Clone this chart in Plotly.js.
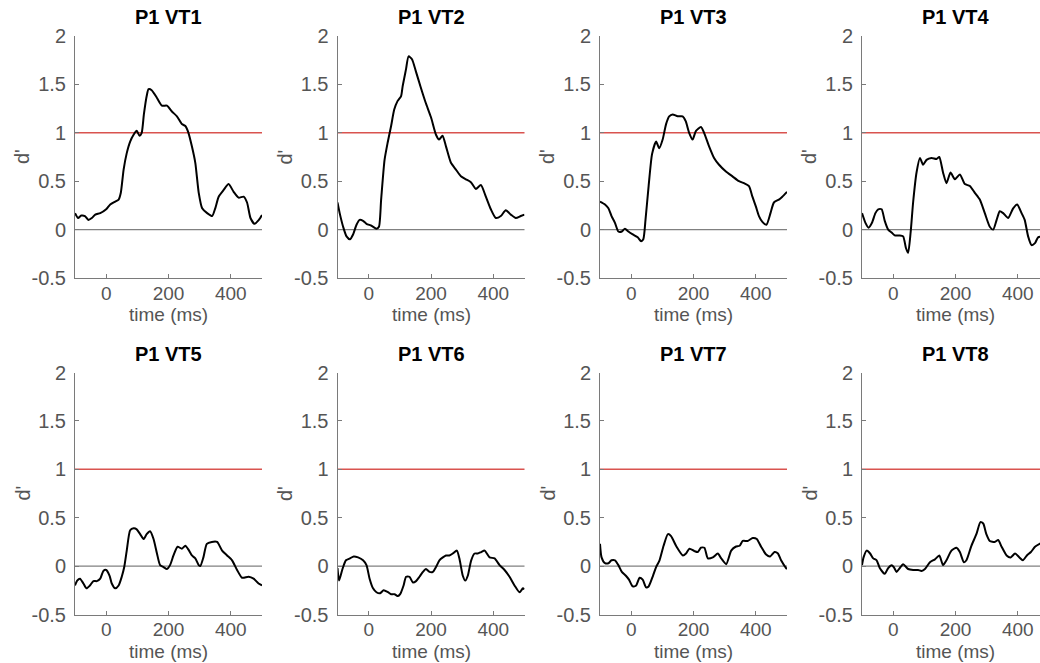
<!DOCTYPE html>
<html>
<head>
<meta charset="utf-8">
<script src="https://cdn.plot.ly/plotly-3.0.1.min.js"></script>
<style>html,body{margin:0;padding:0;background:#fff;overflow:hidden}</style>
</head>
<body>
<div id="chart" style="width:1040px;height:663px"></div>
<script>
// ---- data ----
const panelTitles = ["P1 VT1", "P1 VT2", "P1 VT3", "P1 VT4", "P1 VT5", "P1 VT6", "P1 VT7", "P1 VT8"];
const xTickVals = [0, 200, 400];
const xTickText = ["0", "200", "400"];
const yTickVals = [2, 1.5, 1, 0.5, 0, -0.5];
const yTickText = ["2", "1.5", "1", "0.5", "0", "-0.5"];
const xTitle = "time (ms)";
const yTitle = "d'";
const thresholdLevel = 1;
const baselineLevel = 0;

const t1 = [-100,-90,-80,-68,-57,-46,-35,-19,0,13,29,40,47,56,66,77,88,98,107,114,121,130,136,146,163,179,195,211,227,243,254,264,275,286,297,308,324,340,350,361,377,393,409,425,441,452,463,476,490,500];
const d1 = [0.17,0.12,0.145,0.14,0.10,0.12,0.155,0.17,0.21,0.26,0.29,0.31,0.38,0.62,0.79,0.91,0.98,1.02,0.97,1.0,1.19,1.38,1.45,1.44,1.36,1.28,1.28,1.22,1.17,1.09,1.07,1.0,0.86,0.69,0.38,0.22,0.17,0.14,0.22,0.34,0.41,0.47,0.39,0.33,0.34,0.28,0.12,0.06,0.10,0.15];

const t2 = [-100,-93,-82,-71,-60,-50,-39,-29,-18,-7,9,25,33,40,51,61,72,82,93,104,109,120,128,139,151,167,183,200,216,226,237,248,264,280,296,312,328,344,360,376,392,408,424,440,456,472,488,500];
const d2 = [0.28,0.17,0.03,-0.07,-0.10,-0.05,0.05,0.10,0.09,0.06,0.04,0.01,0.03,0.31,0.72,0.90,1.07,1.24,1.33,1.38,1.48,1.66,1.79,1.76,1.64,1.47,1.31,1.16,0.98,0.93,0.97,0.86,0.69,0.62,0.55,0.52,0.49,0.42,0.46,0.34,0.21,0.12,0.14,0.20,0.155,0.12,0.14,0.155];

const t3 = [-100,-84,-73,-63,-52,-41,-30,-20,-9,5,21,32,39,46,56,67,80,90,101,112,122,133,149,165,175,186,197,208,224,234,250,266,282,304,325,346,362,378,389,400,410,421,434,447,458,474,485,500];
const d3 = [0.29,0.26,0.22,0.14,0.07,-0.02,-0.02,0.01,-0.02,-0.05,-0.08,-0.12,-0.10,0.10,0.45,0.78,0.91,0.84,0.93,1.09,1.17,1.19,1.17,1.17,1.12,1.0,0.93,1.02,1.06,1.0,0.86,0.74,0.67,0.60,0.55,0.50,0.48,0.45,0.34,0.24,0.14,0.08,0.05,0.17,0.28,0.31,0.34,0.39];

const t4 = [-100,-89,-79,-68,-57,-48,-37,-27,-16,-5,5,21,32,41,48,56,64,75,86,96,107,123,139,148,160,171,184,198,214,230,246,262,278,294,310,321,332,342,353,369,385,398,412,422,433,444,455,465,480,500];
const d4 = [0.17,0.07,0.02,0.07,0.17,0.21,0.21,0.09,0.0,-0.03,-0.06,-0.06,-0.07,-0.19,-0.24,-0.03,0.28,0.59,0.74,0.67,0.72,0.74,0.73,0.75,0.59,0.48,0.59,0.52,0.57,0.47,0.45,0.38,0.31,0.17,0.03,0.0,0.10,0.19,0.17,0.12,0.22,0.26,0.17,0.10,-0.07,-0.16,-0.14,-0.08,-0.07,-0.05];

const t5 = [-100,-93,-84,-73,-63,-52,-41,-30,-19,-9,0,11,18,29,40,50,58,66,77,88,98,109,120,130,141,152,163,173,184,195,205,216,229,243,254,264,275,286,297,302,312,323,339,356,372,388,404,420,436,457,473,489,500];
const d5 = [-0.20,-0.15,-0.13,-0.18,-0.23,-0.20,-0.155,-0.155,-0.13,-0.05,-0.04,-0.10,-0.18,-0.23,-0.20,-0.11,-0.01,0.16,0.37,0.39,0.38,0.33,0.28,0.33,0.36,0.28,0.13,0.01,-0.01,-0.03,0.01,0.11,0.20,0.18,0.21,0.17,0.11,0.08,0.01,0.0,0.09,0.23,0.25,0.25,0.16,0.11,0.06,-0.04,-0.12,-0.11,-0.13,-0.18,-0.20];

const t6 = [-100,-95,-84,-73,-60,-48,-34,-18,-7,3,14,25,37,48,62,72,83,94,101,112,120,131,142,152,163,174,184,195,206,216,227,238,248,259,270,283,291,302,310,318,329,340,350,361,372,388,404,420,436,452,468,484,495,500];
const d6 = [-0.02,-0.15,-0.03,0.06,0.08,0.10,0.09,0.06,0.01,-0.13,-0.23,-0.27,-0.28,-0.25,-0.27,-0.29,-0.29,-0.31,-0.29,-0.20,-0.11,-0.11,-0.17,-0.155,-0.11,-0.06,-0.03,-0.06,-0.06,-0.01,0.06,0.09,0.11,0.11,0.13,0.16,0.08,-0.10,-0.15,-0.10,0.06,0.13,0.13,0.145,0.16,0.09,0.08,0.01,-0.04,-0.11,-0.20,-0.27,-0.23,-0.24];

const t7 = [-100,-95,-84,-73,-63,-52,-41,-30,-17,-7,5,16,27,37,48,56,70,80,91,104,118,128,144,166,176,187,203,214,224,235,246,262,278,289,305,321,335,348,358,374,390,403,417,433,446,460,471,481,497,500];
const d7 = [0.23,0.09,0.03,0.03,0.06,0.06,0.01,-0.06,-0.10,-0.14,-0.21,-0.20,-0.12,-0.14,-0.22,-0.21,-0.10,-0.01,0.06,0.21,0.33,0.31,0.21,0.11,0.13,0.18,0.155,0.145,0.19,0.19,0.08,0.09,0.13,0.08,0.02,0.16,0.20,0.21,0.26,0.26,0.29,0.28,0.20,0.12,0.10,0.145,0.13,0.06,-0.02,-0.03];

const t8 = [-100,-95,-85,-74,-64,-53,-43,-27,-16,-5,2,11,21,32,48,64,80,91,102,118,134,148,160,171,187,203,214,227,235,251,267,280,289,299,310,326,337,348,364,377,391,405,416,429,442,455,470,485,500];
const d8 = [0.01,0.09,0.16,0.13,0.08,0.06,-0.02,-0.08,-0.02,0.01,-0.01,-0.06,-0.02,0.02,-0.03,-0.04,-0.04,-0.05,-0.03,0.04,0.07,0.11,0.01,0.06,0.16,0.19,0.145,0.04,0.06,0.21,0.33,0.455,0.44,0.33,0.26,0.25,0.27,0.20,0.11,0.09,0.13,0.09,0.06,0.11,0.145,0.20,0.23,0.25,0.26];

const times = [t1, t2, t3, t4, t5, t6, t7, t8];
const values = [d1, d2, d3, d4, d5, d6, d7, d8];

// ---- layout ----
const W = 1040, H = 663;
const colLeft = [75, 337.5, 600, 862];
const plotW = 187;
const rowTop = [36, 372.5];
const plotH = 242;
const gray = "#555555";
const axisGray = "#7a7a7a";
const fontFam = "Liberation Sans, Arial, Helvetica, sans-serif";
const fs = 20;

const traces = [];
const layout = {
  width: W, height: H,
  margin: {l: 0, r: 0, t: 0, b: 0},
  paper_bgcolor: "#ffffff",
  plot_bgcolor: "rgba(0,0,0,0)",
  showlegend: false,
  font: {family: fontFam, size: fs, color: gray},
  shapes: [],
  annotations: []
};

for (let i = 0; i < 8; i++) {
  const row = Math.floor(i / 4), col = i % 4;
  const n = i + 1;
  const xa = "xaxis" + (n === 1 ? "" : n);
  const ya = "yaxis" + (n === 1 ? "" : n);
  const xr = "x" + (n === 1 ? "" : n);
  const yr = "y" + (n === 1 ? "" : n);
  const x0 = colLeft[col] / W;
  const x1 = Math.min(1, (colLeft[col] + plotW) / W);
  const xmax = x1 >= 1 ? -100 + 600 * (W - colLeft[col]) / plotW : 500;
  const y1 = 1 - rowTop[row] / H;
  const y0 = 1 - (rowTop[row] + plotH) / H;

  layout[xa] = {
    domain: [x0, x1], anchor: yr, range: [-100, xmax],
    tickmode: "array", tickvals: xTickVals, ticktext: xTickText,
    ticks: "inside", ticklen: 4, tickwidth: 1, tickcolor: axisGray,
    showline: true, linecolor: axisGray, linewidth: 1,
    showgrid: false, zeroline: false, fixedrange: true,
    ticklabelstandoff: -2,
    tickfont: {family: fontFam, size: 19, color: gray}
  };
  layout[ya] = {
    domain: [y0, y1], anchor: xr, range: [-0.5, 2],
    tickmode: "array", tickvals: yTickVals, ticktext: yTickText,
    ticks: "inside", ticklen: 4, tickwidth: 1, tickcolor: axisGray,
    showline: true, linecolor: axisGray, linewidth: 1,
    showgrid: false, zeroline: false, fixedrange: true,
    ticklabelstandoff: 4,
    tickfont: {family: fontFam, size: fs, color: gray}
  };

  layout.shapes.push({
    type: "line", xref: xr + " domain", yref: yr, x0: 0, x1: 1,
    y0: baselineLevel, y1: baselineLevel, layer: "below",
    line: {color: "#808080", width: 1.2}
  });
  layout.shapes.push({
    type: "line", xref: xr + " domain", yref: yr, x0: 0, x1: 1,
    y0: thresholdLevel, y1: thresholdLevel, layer: "below",
    line: {color: "#d9534f", width: 1.4}
  });

  traces.push({
    type: "scatter", mode: "lines", x: times[i], y: values[i],
    xaxis: xr, yaxis: yr,
    line: {color: "#000000", width: 2, shape: "spline", smoothing: 0.6},
    hoverinfo: "skip"
  });

  const cx = (colLeft[col] + plotW / 2) / W;
  layout.annotations.push({
    text: "<b>" + panelTitles[i] + "</b>", xref: "paper", yref: "paper",
    x: cx, y: 1 - (rowTop[row] - 19) / H, xanchor: "center", yanchor: "middle",
    showarrow: false, font: {family: fontFam, size: fs, color: "#000000"}
  });
  layout.annotations.push({
    text: xTitle, xref: "paper", yref: "paper",
    x: cx, y: 1 - (rowTop[row] + plotH + 25) / H, xanchor: "center", yanchor: "top",
    borderpad: 0,
    showarrow: false, font: {family: fontFam, size: 19, color: gray}
  });
  layout.annotations.push({
    text: yTitle, xref: "paper", yref: "paper", textangle: -90,
    x: (colLeft[col] - 53) / W, y: 1 - (rowTop[row] + plotH / 2) / H,
    xanchor: "center", yanchor: "middle",
    showarrow: false, font: {family: fontFam, size: fs, color: gray}
  });
}

Plotly.newPlot("chart", traces, layout, {displayModeBar: false, staticPlot: true});
</script>
</body>
</html>
